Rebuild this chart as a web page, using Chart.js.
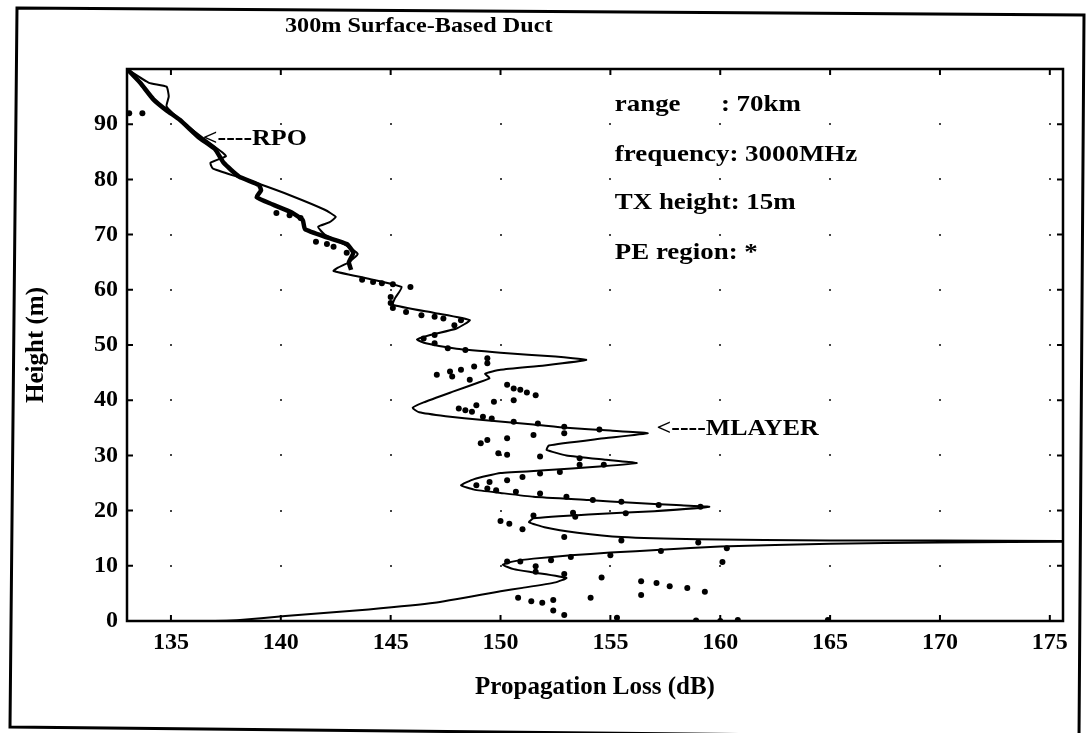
<!DOCTYPE html>
<html>
<head>
<meta charset="utf-8">
<script src="https://cdn.jsdelivr.net/npm/chart.js@4.4.1/dist/chart.umd.min.js"></script>
<style>
    html, body { margin: 0; padding: 0; background: #fff; }
    #wrap { width: 1089px; height: 733px; }
</style>
</head>
<body>
<div id="wrap"><canvas id="chart" width="1089" height="733"></canvas></div>
<script>
// tick labels
const lossTicks = [135, 140, 145, 150, 155, 160, 165, 170, 175];
const heightTicks = [0, 10, 20, 30, 40, 50, 60, 70, 80, 90];

// MLAYER (thin solid line), read top to bottom
const mlayerLoss = [
    133.0, 134.0, 134.8, 134.9, 134.8, 135.5, 136.3, 137.3, 137.5, 136.8, 136.9, 138.0, 139.0, 140.5,
    142.0, 142.5, 142.2, 141.7, 142.0, 143.0, 143.5, 143.1, 142.6, 142.4, 144.0, 145.5, 145.2, 145.1,
    147.0, 148.6, 148.0, 146.8, 146.2, 146.6, 148.0, 150.0, 152.5, 153.9, 152.0, 150.0, 149.3, 149.5,
    149.0, 147.8, 146.5, 146.0, 146.3, 147.5, 149.2, 151.5, 153.0, 155.0, 156.7, 154.5, 152.2, 152.1,
    153.0, 154.8, 156.2, 154.5, 152.0, 150.0, 148.8, 148.2, 148.8, 150.0, 151.5, 154.0, 156.0, 158.0,
    159.5, 157.0, 154.0, 151.5, 151.3, 152.0, 153.5, 155.5, 159.0, 165.0, 170.0, 175.6, 176.5, 170.0,
    165.0, 160.0, 157.3, 155.0, 153.2, 151.5, 150.6, 150.1, 150.6, 151.5, 153.0, 152.5, 151.0, 150.0,
    147.0, 144.0, 140.2, 138.0, 137.0, 135.0,
];
const mlayerHeight = [
    100.0, 97.5, 96.8, 95.0, 93.2, 90.5, 88.0, 85.0, 84.2, 83.0, 82.0, 80.5, 79.2, 77.0,
    74.5, 73.2, 72.2, 71.4, 70.0, 68.0, 66.5, 65.0, 64.0, 63.4, 62.0, 60.5, 58.5, 57.3,
    55.8, 54.5, 53.0, 51.8, 51.0, 50.3, 49.3, 48.6, 47.9, 47.3, 46.3, 45.5, 44.8, 44.0,
    43.2, 41.5, 39.6, 38.6, 37.8, 37.1, 36.4, 35.6, 35.0, 34.5, 34.0, 33.0, 31.8, 31.0,
    30.0, 29.2, 28.6, 28.0, 27.3, 26.8, 25.7, 24.6, 23.8, 23.2, 22.5, 21.9, 21.4, 21.0,
    20.7, 19.9, 19.3, 18.6, 17.9, 17.0, 16.0, 15.2, 14.8, 14.6, 14.6, 14.5, 14.4, 14.2,
    14.0, 13.5, 12.9, 12.4, 11.9, 11.3, 10.8, 10.2, 9.4, 8.8, 7.8, 7.0, 6.0, 5.4,
    3.3, 2.1, 0.9, 0.15, 0.0, 0.0,
];

// RPO (thick line), upper part only
const rpoLoss = [
    133.0, 133.6, 134.2, 134.8, 135.4, 136.3, 137.0, 137.4, 138.1, 139.0, 139.1, 138.9, 139.6, 140.5,
    141.0, 141.1, 142.1, 143.0, 143.3, 143.1, 143.2,
];
const rpoHeight = [
    100.0, 97.5, 94.5, 92.5, 90.8, 87.5, 85.5, 83.0, 80.5, 79.0, 78.0, 76.8, 75.5, 74.0,
    72.6, 71.0, 69.5, 68.3, 66.7, 65.0, 63.6,
];

// PE region (*) points
const peLoss = [
    133.1, 133.7, 139.8, 140.4, 140.9, 141.6, 142.1, 142.4, 143.0, 143.7, 144.2, 144.6, 145.1, 145.9,
    145.0, 145.0, 145.1, 145.7, 146.4, 147.0, 147.4, 147.9, 148.2, 147.0, 146.5, 147.0, 147.6, 148.4,
    149.4, 149.4, 147.1, 147.7, 147.8, 148.2, 148.6, 148.8, 150.3, 150.6, 150.9, 151.2, 151.6, 148.1,
    148.4, 148.7, 148.9, 149.2, 149.6, 149.7, 150.6, 150.6, 151.7, 152.9, 152.9, 154.5, 149.1, 149.4,
    150.3, 151.5, 149.9, 150.3, 151.8, 153.6, 153.6, 154.7, 151.0, 151.8, 152.7, 150.3, 149.5, 148.9,
    149.4, 149.8, 150.7, 151.8, 153.0, 154.2, 155.5, 157.2, 159.1, 150.0, 150.4, 151.0, 151.5, 153.3,
    153.4, 155.7, 152.9, 155.5, 159.0, 157.3, 160.3, 155.0, 153.2, 160.1, 150.3, 150.9, 151.6, 152.3,
    151.6, 152.9, 154.6, 156.4, 157.1, 157.7, 158.5, 159.3, 156.4, 154.1, 150.8, 151.4, 151.9, 152.4,
    152.4, 152.9, 155.3, 158.9, 160.0, 160.8, 164.9,
];
const peHeight = [
    92.0, 92.0, 73.9, 73.5, 73.0, 68.7, 68.3, 67.8, 66.7, 61.8, 61.4, 61.2, 61.0, 60.5,
    58.7, 57.6, 56.7, 56.0, 55.4, 55.1, 54.8, 53.6, 54.5, 51.8, 51.2, 50.3, 49.4, 49.1,
    47.6, 46.7, 44.6, 45.2, 44.3, 45.5, 43.7, 46.1, 42.8, 42.1, 41.9, 41.4, 40.9, 38.5,
    38.2, 37.9, 39.1, 37.0, 36.7, 39.7, 40.0, 36.1, 35.8, 35.2, 34.0, 34.7, 32.2, 32.8,
    33.1, 33.7, 30.4, 30.1, 29.8, 29.5, 28.3, 28.3, 26.1, 26.7, 27.0, 25.5, 25.2, 24.6,
    24.0, 23.7, 23.4, 23.1, 22.5, 21.9, 21.6, 21.0, 20.7, 18.1, 17.6, 16.6, 19.1, 19.6,
    18.9, 19.5, 15.2, 14.6, 14.2, 12.7, 13.2, 11.9, 11.6, 10.7, 10.8, 10.8, 9.9, 11.0,
    8.9, 8.5, 7.9, 7.2, 6.9, 6.3, 6.0, 5.3, 4.7, 4.2, 4.2, 3.6, 3.3, 3.8,
    1.9, 1.1, 0.6, 0.1, 0.0, 0.2, 0.2,
];

const infoLines = ['range      : 70km', 'frequency: 3000MHz', 'TX height: 15m', 'PE region: *'];
const infoHeights = [93.5, 84.4, 75.7, 66.7];

const serif = '"Liberation Serif", "DejaVu Serif", serif';

function toPoints(xs, ys) {
    return xs.map((x, i) => ({ x, y: ys[i] }));
}

// the scanned lettering is a bit wider than plain Times
function stretchedText(ctx, text, x, y, size, stretch) {
    ctx.save();
    ctx.translate(x, y);
    ctx.scale(stretch, 1);
    ctx.font = `bold ${size}px ${serif}`;
    ctx.textAlign = 'left';
    ctx.textBaseline = 'middle';
    ctx.fillText(text, 0, 0);
    ctx.restore();
}

// frame, inward ticks, dotted grid intersections and the text notes
const decorations = {
    id: 'decorations',
    beforeDraw(chart) {
        const { ctx, width, height } = chart;
        ctx.save();
        ctx.fillStyle = '#fff';
        ctx.fillRect(0, 0, width, height);
        ctx.restore();
    },
    beforeDatasetsDraw(chart) {
        const { ctx, scales } = chart;
        const { x, y } = scales;
        ctx.save();
        ctx.fillStyle = '#444';
        lossTicks.forEach((lv) => {
            heightTicks.slice(1).forEach((hv) => {
                ctx.fillRect(Math.round(x.getPixelForValue(lv)) - 1, Math.round(y.getPixelForValue(hv)) - 1, 2, 2);
            });
        });
        ctx.restore();
    },
    afterDraw(chart) {
        const { ctx, chartArea, scales } = chart;
        const { x, y } = scales;
        const { left, right, top, bottom } = chartArea;
        ctx.save();

        // outer frame (the scan is slightly rotated)
        ctx.strokeStyle = '#000';
        ctx.lineWidth = 3;
        ctx.beginPath();
        ctx.moveTo(17, 8);
        ctx.lineTo(1084, 15);
        ctx.lineTo(1079, 738);
        ctx.lineTo(10, 727);
        ctx.closePath();
        ctx.stroke();

        // axes box
        ctx.lineWidth = 2.5;
        ctx.strokeRect(left, top, right - left, bottom - top);

        // inward ticks on all four sides
        ctx.lineWidth = 2;
        ctx.beginPath();
        lossTicks.forEach((v) => {
            const px = x.getPixelForValue(v);
            ctx.moveTo(px, bottom);
            ctx.lineTo(px, bottom - 6);
            ctx.moveTo(px, top);
            ctx.lineTo(px, top + 6);
        });
        heightTicks.forEach((v) => {
            const py = y.getPixelForValue(v);
            ctx.moveTo(left, py);
            ctx.lineTo(left + 6, py);
            ctx.moveTo(right, py);
            ctx.lineTo(right - 6, py);
        });
        ctx.stroke();

        ctx.fillStyle = '#000';

        // title
        stretchedText(ctx, '300m Surface-Based Duct', 285, 26, 22, 1.1);

        // parameter notes
        infoLines.forEach((line, i) => {
            stretchedText(ctx, line, x.getPixelForValue(155.2), y.getPixelForValue(infoHeights[i]), 23, 1.17);
        });

        // curve labels
        stretchedText(ctx, '<----RPO', x.getPixelForValue(136.45), y.getPixelForValue(87.3), 24, 1.08);
        stretchedText(ctx, '<----MLAYER', x.getPixelForValue(157.1), y.getPixelForValue(34.8), 24, 1.08);

        ctx.restore();
    },
};

new Chart(document.getElementById('chart'), {
    type: 'scatter',
    data: {
        datasets: [
            {
                label: 'MLAYER',
                data: toPoints(mlayerLoss, mlayerHeight),
                showLine: true,
                borderColor: '#000',
                borderWidth: 2,
                pointRadius: 0,
                tension: 0.15,
                fill: false,
            },
            {
                label: 'RPO',
                data: toPoints(rpoLoss, rpoHeight),
                showLine: true,
                borderColor: '#000',
                borderWidth: 4.5,
                pointRadius: 0,
                tension: 0.15,
                fill: false,
            },
            {
                label: 'PE region',
                data: toPoints(peLoss, peHeight),
                showLine: false,
                backgroundColor: '#000',
                borderColor: '#000',
                pointRadius: 3,
                pointBorderWidth: 0,
            },
        ],
    },
    options: {
        responsive: false,
        animation: false,
        layout: {
            padding: { top: 69, right: 26, left: 0, bottom: 0 },
        },
        plugins: {
            legend: { display: false },
            tooltip: { enabled: false },
        },
        scales: {
            x: {
                type: 'linear',
                min: 133,
                max: 175.6,
                afterBuildTicks(scale) {
                    scale.ticks = lossTicks.map((value) => ({ value }));
                },
                afterFit(scale) {
                    scale.height = 112;
                },
                grid: { display: false, drawTicks: false },
                border: { display: false },
                ticks: {
                    color: '#000',
                    padding: 7,
                    maxRotation: 0,
                    font: { family: serif, size: 24, weight: 'bold' },
                },
                title: {
                    display: true,
                    text: 'Propagation Loss (dB)',
                    color: '#000',
                    font: { family: serif, size: 25, weight: 'bold' },
                    padding: { top: 0, bottom: 30 },
                },
            },
            y: {
                type: 'linear',
                min: 0,
                max: 100,
                afterBuildTicks(scale) {
                    scale.ticks = heightTicks.map((value) => ({ value }));
                },
                afterFit(scale) {
                    scale.width = 127;
                },
                grid: { display: false, drawTicks: false },
                border: { display: false },
                ticks: {
                    color: '#000',
                    padding: 9,
                    font: { family: serif, size: 24, weight: 'bold' },
                },
                title: {
                    display: true,
                    text: 'Height (m)',
                    color: '#000',
                    font: { family: serif, size: 25, weight: 'bold' },
                    padding: { top: 22, bottom: 0 },
                },
            },
        },
    },
    plugins: [decorations],
});
</script>
</body>
</html>
